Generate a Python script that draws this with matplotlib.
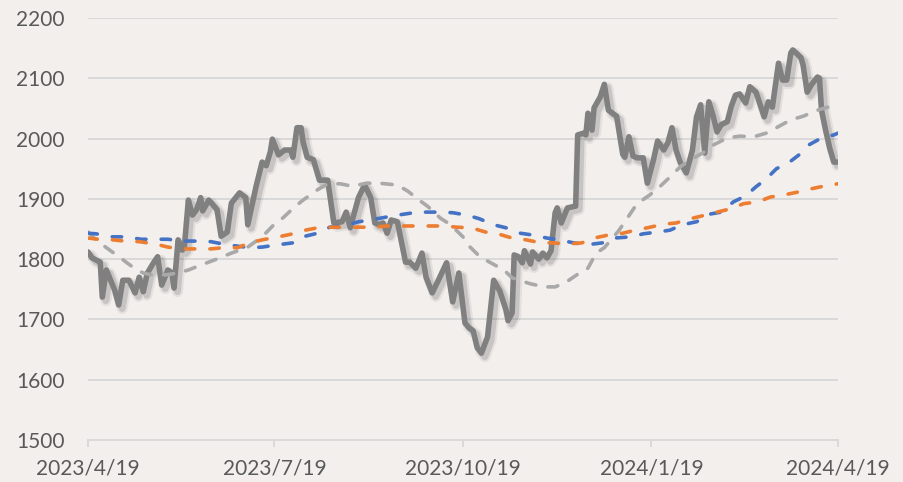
import matplotlib
matplotlib.use("Agg")
import matplotlib.pyplot as plt
import matplotlib.patheffects as pe
import pandas as pd

# price (thick grey line)
price_dates = [
    "2023-04-19", "2023-04-21", "2023-04-25", "2023-04-26", "2023-04-28", "2023-05-02", "2023-05-04",
    "2023-05-06", "2023-05-09", "2023-05-12", "2023-05-14", "2023-05-16", "2023-05-18", "2023-05-21",
    "2023-05-23", "2023-05-25", "2023-05-28", "2023-05-30", "2023-05-31", "2023-06-02", "2023-06-04",
    "2023-06-05", "2023-06-07", "2023-06-09", "2023-06-11", "2023-06-13", "2023-06-14", "2023-06-17",
    "2023-06-21", "2023-06-23", "2023-06-26", "2023-06-28", "2023-07-02", "2023-07-05", "2023-07-06",
    "2023-07-10", "2023-07-13", "2023-07-15", "2023-07-17", "2023-07-18", "2023-07-21", "2023-07-24",
    "2023-07-27", "2023-07-28", "2023-07-30", "2023-08-01", "2023-08-02", "2023-08-04", "2023-08-07",
    "2023-08-10", "2023-08-14", "2023-08-17", "2023-08-21", "2023-08-23", "2023-08-25", "2023-08-29",
    "2023-09-01", "2023-09-04", "2023-09-06", "2023-09-08", "2023-09-10", "2023-09-12", "2023-09-14",
    "2023-09-17", "2023-09-21", "2023-09-23", "2023-09-26", "2023-09-29", "2023-10-01", "2023-10-04",
    "2023-10-07", "2023-10-11", "2023-10-14", "2023-10-17", "2023-10-20", "2023-10-22", "2023-10-24",
    "2023-10-26", "2023-10-28", "2023-10-31", "2023-11-03", "2023-11-06", "2023-11-09", "2023-11-10",
    "2023-11-12", "2023-11-13", "2023-11-15", "2023-11-17", "2023-11-18", "2023-11-21", "2023-11-22",
    "2023-11-25", "2023-11-27", "2023-11-29", "2023-12-01", "2023-12-03", "2023-12-04", "2023-12-06",
    "2023-12-09", "2023-12-13", "2023-12-14", "2023-12-17", "2023-12-18", "2023-12-19", "2023-12-21",
    "2023-12-22", "2023-12-25", "2023-12-27", "2023-12-29", "2024-01-02", "2024-01-05", "2024-01-06",
    "2024-01-08", "2024-01-10", "2024-01-12", "2024-01-15", "2024-01-17", "2024-01-20", "2024-01-22",
    "2024-01-25", "2024-01-27", "2024-01-29", "2024-01-31", "2024-02-02", "2024-02-05", "2024-02-08",
    "2024-02-10", "2024-02-12", "2024-02-14", "2024-02-16", "2024-02-18", "2024-02-20", "2024-02-22",
    "2024-02-25", "2024-02-27", "2024-02-29", "2024-03-02", "2024-03-05", "2024-03-07", "2024-03-10",
    "2024-03-11", "2024-03-14", "2024-03-16", "2024-03-18", "2024-03-21", "2024-03-23", "2024-03-25",
    "2024-03-27", "2024-03-28", "2024-04-01", "2024-04-02", "2024-04-04", "2024-04-06", "2024-04-09",
    "2024-04-10", "2024-04-11", "2024-04-13", "2024-04-15", "2024-04-17", "2024-04-19",
]
price_values = [
    1812, 1802, 1795, 1737, 1782, 1749, 1724,
    1765, 1765, 1744, 1770, 1746, 1777, 1794,
    1804, 1757, 1782, 1777, 1752, 1832, 1815,
    1819, 1898, 1873, 1882, 1902, 1880, 1898,
    1882, 1838, 1845, 1893, 1910, 1902, 1857,
    1920, 1961, 1955, 1978, 1999, 1973, 1981,
    1981, 1969, 2018, 2018, 1994, 1969, 1965,
    1931, 1931, 1860, 1862, 1878, 1852, 1902,
    1923, 1902, 1860, 1857, 1860, 1843, 1865,
    1862, 1795, 1795, 1785, 1810, 1770, 1744,
    1765, 1794, 1729, 1777, 1694, 1686, 1681,
    1653, 1644, 1671, 1765, 1747, 1716, 1698,
    1711, 1807, 1804, 1794, 1814, 1792, 1812,
    1800, 1810, 1802, 1814, 1877, 1885, 1860,
    1885, 1888, 2006, 2009, 2006, 2042, 2014,
    2051, 2069, 2090, 2047, 2037, 1974, 1969,
    2003, 1971, 1968, 1968, 1926, 1965, 1996,
    1981, 1993, 2018, 1981, 1961, 1943, 1981,
    2036, 2056, 1976, 2061, 2039, 2011, 2023,
    2028, 2054, 2072, 2074, 2059, 2086, 2077,
    2067, 2036, 2061, 2052, 2125, 2097, 2097,
    2142, 2147, 2134, 2122, 2077, 2089, 2102,
    2100, 2047, 2014, 1984, 1961, 1961,
]

# light grey dashed average
ma_grey_dates = [
    "2023-04-19", "2023-04-23", "2023-04-26", "2023-04-30", "2023-05-05", "2023-05-08", "2023-05-12",
    "2023-05-16", "2023-05-20", "2023-05-27", "2023-06-02", "2023-06-07", "2023-06-13", "2023-06-20",
    "2023-06-28", "2023-07-06", "2023-07-13", "2023-07-19", "2023-07-23", "2023-07-29", "2023-08-02",
    "2023-08-09", "2023-08-14", "2023-08-20", "2023-08-26", "2023-09-02", "2023-09-08", "2023-09-17",
    "2023-09-22", "2023-09-28", "2023-10-02", "2023-10-08", "2023-10-13", "2023-10-19", "2023-10-21",
    "2023-10-27", "2023-11-01", "2023-11-08", "2023-11-12", "2023-11-21", "2023-11-28", "2023-12-03",
    "2023-12-08", "2023-12-14", "2023-12-19", "2023-12-23", "2023-12-27", "2024-01-03", "2024-01-06",
    "2024-01-09", "2024-01-12", "2024-01-18", "2024-01-23", "2024-01-28", "2024-02-02", "2024-02-07",
    "2024-02-13", "2024-02-18", "2024-02-25", "2024-03-02", "2024-03-09", "2024-03-15", "2024-03-20",
    "2024-03-27", "2024-04-02", "2024-04-09", "2024-04-14", "2024-04-19",
]
ma_grey_values = [
    1845, 1832, 1824, 1814, 1802, 1794, 1784,
    1777, 1774, 1774, 1777, 1782, 1790, 1799,
    1810, 1820, 1837, 1858, 1868, 1887, 1898,
    1915, 1925, 1925, 1921, 1926, 1926, 1923,
    1913, 1897, 1887, 1868, 1857, 1837, 1825,
    1805, 1795, 1782, 1769, 1759, 1754, 1754,
    1761, 1775, 1785, 1810, 1819, 1847, 1862,
    1877, 1892, 1906, 1920, 1936, 1953, 1965,
    1976, 1989, 2001, 2004, 2003, 2009, 2018,
    2031, 2037, 2047, 2052, 2056,
]

# blue dashed average
ma_blue_dates = [
    "2023-04-19", "2023-04-23", "2023-05-01", "2023-05-07", "2023-05-15", "2023-05-21", "2023-05-28",
    "2023-06-04", "2023-06-10", "2023-06-18", "2023-06-24", "2023-06-30", "2023-07-07", "2023-07-13",
    "2023-07-21", "2023-07-28", "2023-08-03", "2023-08-09", "2023-08-15", "2023-08-22", "2023-08-29",
    "2023-09-04", "2023-09-12", "2023-09-17", "2023-09-25", "2023-10-01", "2023-10-08", "2023-10-14",
    "2023-10-21", "2023-10-27", "2023-11-03", "2023-11-09", "2023-11-16", "2023-11-22", "2023-11-29",
    "2023-12-05", "2023-12-12", "2023-12-19", "2023-12-26", "2024-01-01", "2024-01-09", "2024-01-15",
    "2024-01-22", "2024-01-28", "2024-02-03", "2024-02-10", "2024-02-17", "2024-02-22", "2024-02-28",
    "2024-03-05", "2024-03-10", "2024-03-15", "2024-03-20", "2024-03-26", "2024-03-31", "2024-04-04",
    "2024-04-11", "2024-04-17", "2024-04-19",
]
ma_blue_values = [
    1843, 1842, 1837, 1837, 1833, 1833, 1833,
    1830, 1830, 1829, 1825, 1822, 1819, 1820,
    1824, 1827, 1838, 1843, 1853, 1855, 1862,
    1865, 1870, 1873, 1877, 1878, 1878, 1877,
    1873, 1867, 1857, 1852, 1843, 1840, 1835,
    1832, 1827, 1824, 1827, 1835, 1837, 1842,
    1845, 1848, 1857, 1862, 1875, 1878, 1895,
    1905, 1920, 1933, 1950, 1960, 1973, 1988,
    2001, 2006, 2009,
]

# orange dashed average
ma_orange_dates = [
    "2023-04-19", "2023-04-24", "2023-05-01", "2023-05-07", "2023-05-14", "2023-05-22", "2023-05-28",
    "2023-06-04", "2023-06-10", "2023-06-18", "2023-06-24", "2023-07-01", "2023-07-07", "2023-07-13",
    "2023-07-21", "2023-07-28", "2023-08-03", "2023-08-09", "2023-08-16", "2023-08-23", "2023-08-30",
    "2023-09-05", "2023-09-12", "2023-09-19", "2023-09-27", "2023-10-03", "2023-10-10", "2023-10-16",
    "2023-10-23", "2023-10-30", "2023-11-05", "2023-11-12", "2023-11-19", "2023-11-26", "2023-12-02",
    "2023-12-09", "2023-12-16", "2023-12-22", "2023-12-29", "2024-01-05", "2024-01-11", "2024-01-17",
    "2024-01-25", "2024-01-31", "2024-02-07", "2024-02-13", "2024-02-20", "2024-02-26", "2024-03-04",
    "2024-03-11", "2024-03-17", "2024-03-23", "2024-03-30", "2024-04-05", "2024-04-12", "2024-04-19",
]
ma_orange_values = [
    1835, 1833, 1832, 1830, 1829, 1825, 1820,
    1817, 1817, 1817, 1819, 1819, 1827, 1832,
    1837, 1842, 1848, 1852, 1853, 1853, 1853,
    1853, 1855, 1855, 1855, 1855, 1855, 1853,
    1852, 1845, 1842, 1835, 1832, 1827, 1827,
    1825, 1827, 1835, 1840, 1843, 1848, 1852,
    1858, 1860, 1867, 1872, 1878, 1883, 1892,
    1895, 1903, 1906, 1911, 1916, 1921, 1925,
]

tick_dates = ["2023-04-19", "2023-07-19", "2023-10-19", "2024-01-19", "2024-04-19"]
tick_labels = ["2023/4/19", "2023/7/19", "2023/10/19", "2024/1/19", "2024/4/19"]
y_ticks = [1500, 1600, 1700, 1800, 1900, 2000, 2100, 2200]

plt.rcParams['font.family'] = ['Lato', 'DejaVu Sans']

bg = '#f2efec'
grid_c = '#d9d9d9'
text_c = '#595959'

fig = plt.figure(figsize=(9.04, 4.82), dpi=100, facecolor=bg)
ax = fig.add_axes([0.0973, 0.0871, 0.8296, 0.8756])
ax.set_facecolor(bg)

# price line with a soft drop shadow
shadow = [
    pe.SimpleLineShadow(offset=(2.5, -2.5), shadow_color='black', alpha=0.06, linewidth=8),
    pe.SimpleLineShadow(offset=(2.5, -2.5), shadow_color='black', alpha=0.12, linewidth=5),
    pe.Normal(),
]
ax.plot(pd.to_datetime(price_dates), price_values, color='#808080', lw=4.0,
        solid_joinstyle='round', solid_capstyle='round', path_effects=shadow, zorder=3)

# dashed averages (round caps add one line width to each dash)
ax.plot(pd.to_datetime(ma_grey_dates), ma_grey_values, color='#a9a9a9', lw=2.6,
        linestyle=(0, (2.8, 3.4)), dash_capstyle='round', zorder=4)
ax.plot(pd.to_datetime(ma_blue_dates), ma_blue_values, color='#4472c4', lw=2.6,
        linestyle=(0, (2.6, 4.2)), dash_capstyle='round', zorder=5)
ax.plot(pd.to_datetime(ma_orange_dates), ma_orange_values, color='#ed7d31', lw=2.6,
        linestyle=(0, (2.6, 4.2)), dash_capstyle='round', zorder=6)

ax.set_xlim(pd.Timestamp(tick_dates[0]), pd.Timestamp(tick_dates[-1]))
ax.set_ylim(1500, 2200)
ax.set_yticks(y_ticks)
ax.set_xticks(pd.to_datetime(tick_dates))
ax.set_xticklabels(tick_labels)

ax.grid(axis='y', color=grid_c, lw=1.4, zorder=0)
ax.set_axisbelow(True)
for s in ['left', 'right', 'top']:
    ax.spines[s].set_visible(False)
ax.spines['bottom'].set_color(grid_c)
ax.spines['bottom'].set_linewidth(1.4)

ax.tick_params(axis='y', length=0, pad=17, labelsize=15, labelcolor=text_c)
ax.tick_params(axis='x', length=5, width=1.4, color=grid_c, pad=8, labelsize=15, labelcolor=text_c)

fig.savefig('out.png', dpi=100, facecolor=bg)
